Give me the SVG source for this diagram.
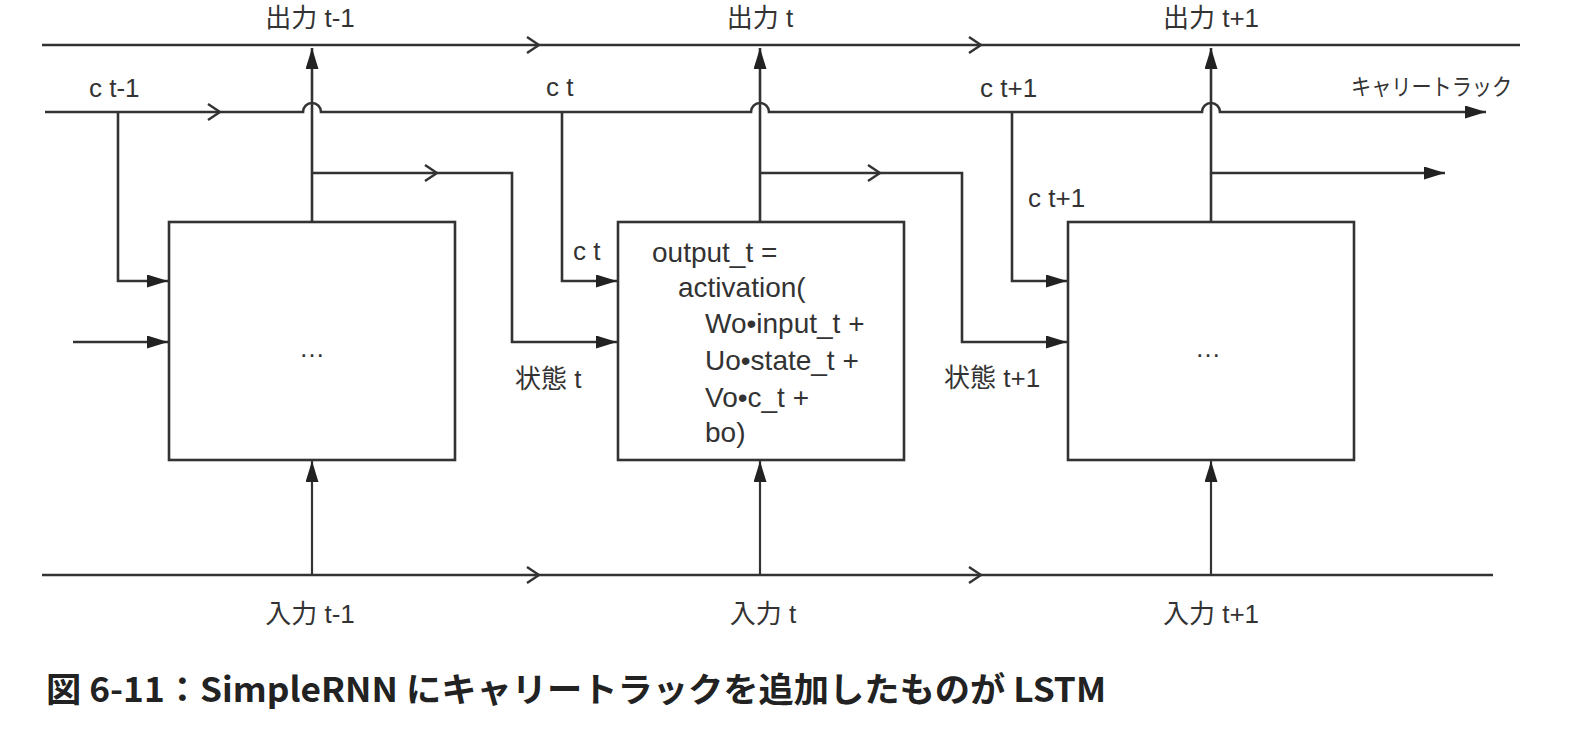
<svg xmlns="http://www.w3.org/2000/svg" width="1592" height="736" viewBox="0 0 1592 736">
<style>
.ln{fill:none;stroke:#333;stroke-width:2.6}
.thin{fill:none;stroke:#333;stroke-width:2.2}
.box{fill:#fff;stroke:#333;stroke-width:2.6}
.chev{fill:none;stroke:#333;stroke-width:2.4;stroke-linejoin:miter}
.t{font-family:"Liberation Sans","Noto Sans CJK JP",sans-serif;font-size:26px;fill:#333}
.code{font-family:"Liberation Sans",sans-serif;font-size:28px;fill:#333}
.cap{font-family:"Noto Sans CJK JP",sans-serif;font-weight:bold;font-size:34px;fill:#222}
</style>
<defs>
<marker id="ah" markerUnits="userSpaceOnUse" markerWidth="22" markerHeight="14" refX="21" refY="6.5" orient="auto">
<path d="M0,0 L21,6.5 L0,13 Z" fill="#222"/>
</marker>
</defs>
<rect width="1592" height="736" fill="#fff"/>
<g id="connectors">
<!-- top output line -->
<line class="ln" x1="42" y1="45" x2="1520" y2="45"/>
<path class="chev" d="M527,37 L539,45 L527,53"/>
<path class="chev" d="M969,37 L981,45 L969,53"/>
<!-- carry track -->
<path class="ln" d="M45,112 H303 A9,9 0 0 1 321,112 H751 A9,9 0 0 1 769,112 H1202 A9,9 0 0 1 1220,112 H1486" marker-end="url(#ah)"/>
<path class="chev" d="M208,104 L220,112 L208,120"/>
<!-- bottom input line -->
<line class="ln" x1="42" y1="575" x2="1493" y2="575"/>
<path class="chev" d="M527,567 L539,575 L527,583"/>
<path class="chev" d="M969,567 L981,575 L969,583"/>
<!-- output verticals -->
<line class="ln" x1="312" y1="222" x2="312" y2="48" marker-end="url(#ah)"/>
<line class="ln" x1="760" y1="222" x2="760" y2="48" marker-end="url(#ah)"/>
<line class="ln" x1="1211" y1="222" x2="1211" y2="48" marker-end="url(#ah)"/>
<!-- input verticals -->
<line class="thin" x1="312" y1="575" x2="312" y2="461" marker-end="url(#ah)"/>
<line class="thin" x1="760" y1="575" x2="760" y2="461" marker-end="url(#ah)"/>
<line class="thin" x1="1211" y1="575" x2="1211" y2="461" marker-end="url(#ah)"/>
<!-- c drops -->
<path class="ln" d="M118,112 V281 H168" marker-end="url(#ah)"/>
<path class="ln" d="M562,112 V281 H617" marker-end="url(#ah)"/>
<path class="ln" d="M1012,112 V281 H1067" marker-end="url(#ah)"/>
<!-- state -->
<path class="ln" d="M312,173 H512 V342 H617" marker-end="url(#ah)"/>
<path class="chev" d="M425,165 L437,173 L425,181"/>
<path class="ln" d="M760,173 H962 V342 H1067" marker-end="url(#ah)"/>
<path class="chev" d="M868,165 L880,173 L868,181"/>
<path class="ln" d="M1211,173 H1445" marker-end="url(#ah)"/>
<!-- input state into first box -->
<line class="ln" x1="73" y1="342" x2="168" y2="342" marker-end="url(#ah)"/>
</g>
<g id="box1">
<rect class="box" x="169" y="222" width="286" height="238"/>
<text class="t" x="312" y="357" text-anchor="middle">…</text>
</g>
<g id="box2">
<rect class="box" x="618" y="222" width="286" height="238"/>
<text class="code" x="652" y="262">output_t =</text>
<text class="code" x="678" y="297">activation(</text>
<text class="code" x="705" y="333">Wo•input_t +</text>
<text class="code" x="705" y="370">Uo•state_t +</text>
<text class="code" x="705" y="407">Vo•c_t +</text>
<text class="code" x="705" y="442">bo)</text>
</g>
<g id="box3">
<rect class="box" x="1068" y="222" width="286" height="238"/>
<text class="t" x="1208" y="357" text-anchor="middle">…</text>
</g>
<g id="labels">
<text class="t" x="310" y="27" text-anchor="middle">出力 t-1</text>
<text class="t" x="760" y="27" text-anchor="middle">出力 t</text>
<text class="t" x="1211" y="27" text-anchor="middle">出力 t+1</text>
<text class="t" x="89" y="97">c t-1</text>
<text class="t" x="546" y="96">c t</text>
<text class="t" x="980" y="97">c t+1</text>
<text class="t" x="1351" y="95" textLength="161" lengthAdjust="spacingAndGlyphs" style="font-size:23px">キャリートラック</text>
<text class="t" x="573" y="260">c t</text>
<text class="t" x="515" y="388">状態 t</text>
<text class="t" x="1028" y="207">c t+1</text>
<text class="t" x="944" y="387">状態 t+1</text>
<text class="t" x="310" y="623" text-anchor="middle">入力 t-1</text>
<text class="t" x="763" y="623" text-anchor="middle">入力 t</text>
<text class="t" x="1211" y="623" text-anchor="middle">入力 t+1</text>
<text class="cap" x="46" y="702" textLength="1060" lengthAdjust="spacingAndGlyphs">図 6-11：SimpleRNN にキャリートラックを追加したものが LSTM</text>
</g>
</svg>
